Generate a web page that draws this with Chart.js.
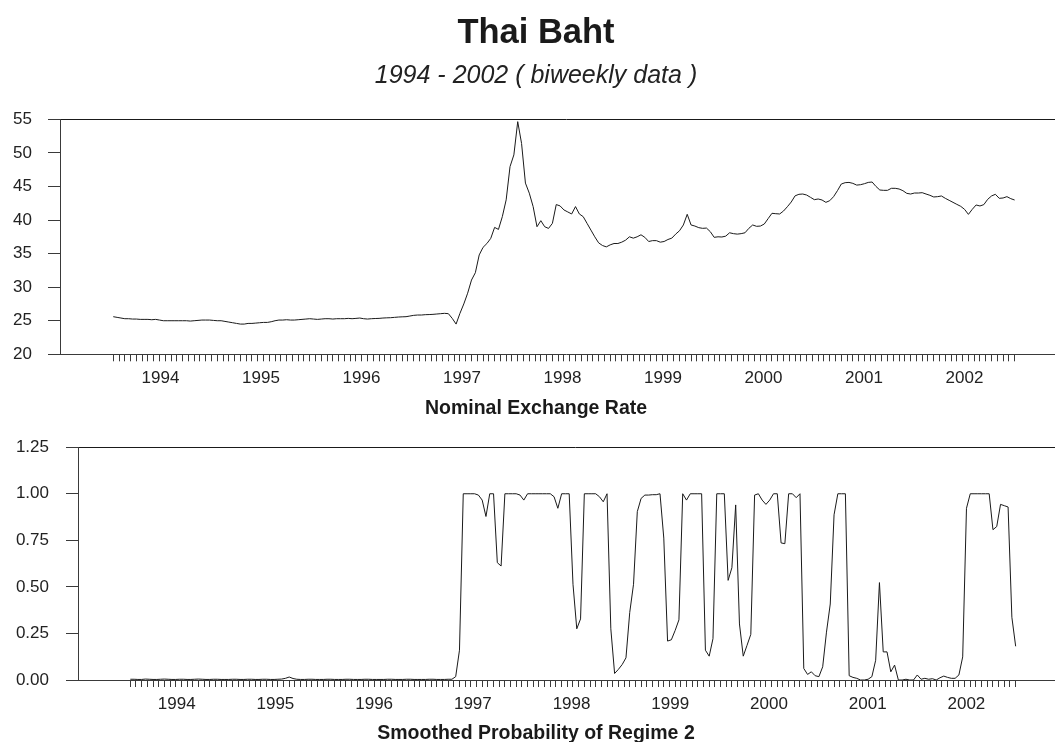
<!DOCTYPE html>
<html>
<head>
<meta charset="utf-8">
<title>Thai Baht</title>
<script src="https://cdn.jsdelivr.net/npm/chart.js@4.4.1/dist/chart.umd.min.js"></script>
<style>
  html, body { margin: 0; padding: 0; background: #fff; overflow: hidden; width: 1055px; height: 742px; }
  #wrap { position: relative; width: 1055px; height: 742px; overflow: hidden; }
  canvas { position: absolute; left: 0; }
  #rate { top: 0; }
  #prob { top: 420px; }
</style>
</head>
<body>
<div id="wrap">
  <canvas id="rate" width="1072" height="420"></canvas>
  <canvas id="prob" width="1072" height="322"></canvas>
</div>
<script>
// Sampling schedule of the series: one observation every two weeks from early January 1994
const firstObs = 1994.03;
const obsStepYears = 14 / 365.25;
// Minor tick marks along the time axis, every three weeks
const minorTickStepYears = 21 / 365.25;

const yearLabels = ['1994', '1995', '1996', '1997', '1998', '1999', '2000', '2001', '2002'];

const rateTicks = [20, 25, 30, 35, 40, 45, 50, 55];
const probTicks = [0, 0.25, 0.5, 0.75, 1, 1.25];
const probTickLabels = ['0.00', '0.25', '0.50', '0.75', '1.00', '1.25'];

// Baht per US dollar, biweekly
const rateValues = [
  25.6, 25.5, 25.4, 25.3, 25.3, 25.25, 25.25, 25.2, 25.2, 25.2,
  25.15, 25.2, 25.1, 25.0, 25.0, 25.0, 25.0, 25.0, 25.0, 25.0,
  24.95, 25.0, 25.05, 25.1, 25.1, 25.1, 25.05, 25.0, 25.0, 24.9,
  24.8, 24.7, 24.6, 24.5, 24.5, 24.6, 24.6, 24.65, 24.7, 24.75,
  24.75, 24.85, 25.0, 25.1, 25.1, 25.15, 25.1, 25.1, 25.15, 25.2,
  25.25, 25.3, 25.25, 25.2, 25.25, 25.3, 25.3, 25.25, 25.3, 25.3,
  25.3, 25.35, 25.3, 25.35, 25.4, 25.3, 25.25, 25.3, 25.33, 25.35,
  25.4, 25.43, 25.45, 25.5, 25.55, 25.58, 25.6, 25.7, 25.8, 25.85,
  25.85, 25.9, 25.92, 25.95, 26.0, 26.05, 26.1, 26.05, 25.35, 24.5,
  26.1, 27.5, 29.1, 31.06, 32.15, 34.8, 35.93, 36.5, 37.27, 38.9,
  38.6, 40.5, 43.0, 47.95, 49.7, 54.65, 51.4, 45.5, 44.0, 42.0,
  39.0, 39.9, 39.0, 38.75, 39.5, 42.3, 42.1, 41.5, 41.2, 40.9,
  42.0, 40.9, 40.5, 39.5, 38.5, 37.5, 36.6, 36.2, 36.0, 36.3,
  36.5, 36.5, 36.7, 37.0, 37.5, 37.3, 37.5, 37.8, 37.42, 36.8,
  36.93, 36.93, 36.7, 36.8, 37.1, 37.3, 37.9, 38.4, 39.26, 40.85,
  39.26, 39.1, 38.86, 38.76, 38.8, 38.26, 37.42, 37.5, 37.47, 37.6,
  38.1, 37.97, 37.9, 37.97, 38.1, 38.76, 39.26, 39.06, 39.1, 39.4,
  40.2, 41.0, 40.94, 40.9, 41.34, 41.98, 42.68, 43.6, 43.83, 43.87,
  43.72, 43.38, 43.03, 43.13, 42.98, 42.63, 42.88, 43.48, 44.37, 45.36,
  45.56, 45.6, 45.46, 45.2, 45.26, 45.41, 45.6, 45.66, 45.0, 44.47,
  44.42, 44.42, 44.72, 44.72, 44.62, 44.37, 43.97, 43.87, 44.02, 44.02,
  44.07, 43.87, 43.68, 43.43, 43.48, 43.58, 43.23, 42.93, 42.63, 42.33,
  42.04, 41.59, 40.84, 41.59, 42.24, 42.09, 42.29, 43.08, 43.58, 43.83,
  43.23, 43.28, 43.48, 43.18, 42.98
];

// Smoothed probability of regime 2, biweekly
const probValues = [
  0.004, 0.004, 0.003, 0.003, 0.005, 0.004, 0.003, 0.003, 0.004, 0.005,
  0.004, 0.003, 0.003, 0.004, 0.004, 0.003, 0.003, 0.004, 0.005, 0.004,
  0.003, 0.003, 0.004, 0.004, 0.003, 0.003, 0.003, 0.004, 0.004, 0.003,
  0.003, 0.004, 0.004, 0.003, 0.003, 0.004, 0.004, 0.003, 0.003, 0.004,
  0.005, 0.009, 0.016, 0.008, 0.004, 0.003, 0.003, 0.004, 0.004, 0.003,
  0.003, 0.003, 0.004, 0.004, 0.003, 0.003, 0.003, 0.004, 0.004, 0.003,
  0.003, 0.003, 0.004, 0.004, 0.003, 0.003, 0.003, 0.003, 0.004, 0.004,
  0.003, 0.003, 0.003, 0.004, 0.004, 0.003, 0.003, 0.003, 0.003, 0.004,
  0.004, 0.003, 0.003, 0.003, 0.004, 0.004, 0.018, 0.16, 1.0, 1.0,
  1.0, 1.0, 0.993, 0.966, 0.878, 1.0, 1.0, 0.63, 0.612, 1.0,
  1.0, 1.0, 1.0, 0.993, 0.966, 1.0, 1.0, 1.0, 1.0, 1.0,
  1.0, 1.0, 0.984, 0.922, 1.0, 1.0, 1.0, 0.514, 0.275, 0.328,
  1.0, 1.0, 1.0, 1.0, 0.984, 0.957, 1.0, 0.275, 0.035, 0.057,
  0.083, 0.119, 0.363, 0.514, 0.904, 0.975, 0.993, 0.993, 0.995, 0.995,
  1.0, 0.762, 0.209, 0.216, 0.266, 0.323, 1.0, 0.966, 1.0, 1.0,
  1.0, 1.0, 0.16, 0.128, 0.222, 1.0, 1.0, 1.0, 0.535, 0.603,
  0.94, 0.301, 0.128, 0.186, 0.245, 0.993, 1.0, 0.966, 0.943, 0.966,
  1.0, 1.0, 0.736, 0.732, 1.0, 1.0, 0.979, 1.0, 0.062, 0.03,
  0.044, 0.023, 0.018, 0.071, 0.257, 0.408, 0.887, 1.0, 1.0, 1.0,
  0.023, 0.014, 0.009, 0.0, 0.0, 0.004, 0.018, 0.106, 0.523, 0.151,
  0.151, 0.044, 0.08, 0.0, 0.0, 0.004, 0.0, 0.0, 0.027, 0.004,
  0.009, 0.004, 0.007, 0.0, 0.012, 0.021, 0.014, 0.009, 0.009, 0.027,
  0.124, 0.922, 1.0, 1.0, 1.0, 1.0, 1.0, 1.0, 0.807, 0.824,
  0.943, 0.936, 0.929, 0.337, 0.181
];

const FONT = "'Liberation Sans', Arial, Helvetica, sans-serif";
const INK = '#1a1a1a';
const AXIS = '#3a3a3a';

// Time axis shared by both panels: decimal years
const axisStart = 1993.5;
const axisEnd = 2003.57;

function obsTime(i) { return firstObs + i * obsStepYears; }
function toPoints(values) { return values.map((v, i) => ({ x: obsTime(i), y: v })); }

const lastObs = obsTime(Math.max(rateValues.length, probValues.length) - 1);
const yearTickPos = new Map(yearLabels.map(lab => [Number(lab) + 0.5, lab]));
const minorTicks = [];
for (let v = firstObs; v <= lastObs + 1e-9; v += minorTickStepYears) minorTicks.push(v);
const timeTicks = minorTicks.concat([...yearTickPos.keys()]).sort((a, b) => a - b);

function isYearTick(value) { return yearTickPos.has(value); }

function timeAxis() {
  return {
    type: 'linear',
    position: 'bottom',
    min: axisStart,
    max: axisEnd,
    afterBuildTicks(scale) { scale.ticks = timeTicks.map(v => ({ value: v })); },
    afterFit(scale) { scale.height = 40; },
    grid: {
      display: true,
      drawOnChartArea: false,
      drawTicks: true,
      tickLength: 7,
      tickWidth: 1,
      color: AXIS,
      tickColor: ctx => (ctx.tick && isYearTick(ctx.tick.value)) ? 'rgba(0,0,0,0)' : AXIS
    },
    border: { display: true, color: AXIS, width: 1 },
    ticks: {
      autoSkip: false,
      maxRotation: 0,
      minRotation: 0,
      padding: 7,
      color: '#222',
      font: { family: FONT, size: 17 },
      callback: v => yearTickPos.get(v) || ''
    }
  };
}

function valueAxis(tickValues, tickText, width, pad) {
  const top = tickValues[tickValues.length - 1];
  return {
    type: 'linear',
    position: 'left',
    min: tickValues[0],
    max: top,
    afterBuildTicks(scale) { scale.ticks = tickValues.map(v => ({ value: v })); },
    afterFit(scale) { scale.width = width; },
    grid: {
      display: true,
      drawOnChartArea: true,
      drawTicks: true,
      tickLength: 12,
      tickWidth: 1,
      lineWidth: 1,
      color: ctx => (ctx.tick && ctx.tick.value === top) ? INK : 'rgba(0,0,0,0)',
      tickColor: AXIS
    },
    border: { display: true, color: AXIS, width: 1 },
    ticks: {
      padding: pad,
      color: '#222',
      font: { family: FONT, size: 17 },
      callback: (v, i) => tickText[i]
    }
  };
}

// Bold caption centred under each panel
const axisCaption = {
  id: 'axisCaption',
  afterDraw(chart, args, opts) {
    const ctx = chart.ctx;
    ctx.save();
    ctx.font = 'bold ' + opts.size + 'px ' + FONT;
    ctx.fillStyle = INK;
    ctx.textAlign = 'center';
    ctx.textBaseline = 'alphabetic';
    ctx.fillText(opts.text, opts.x, opts.y);
    ctx.restore();
  }
};

function lineSet(values) {
  return {
    data: toPoints(values),
    borderColor: INK,
    borderWidth: 1,
    pointRadius: 0,
    tension: 0,
    fill: false
  };
}

Chart.defaults.font.family = FONT;

new Chart(document.getElementById('rate'), {
  type: 'line',
  data: { datasets: [lineSet(rateValues)] },
  options: {
    responsive: false,
    animation: false,
    devicePixelRatio: 1,
    parsing: false,
    layout: { padding: { top: 0, left: 0, right: 0, bottom: 25.7 } },
    scales: {
      x: timeAxis(),
      y: valueAxis(rateTicks, rateTicks.map(String), 60, 16)
    },
    plugins: {
      legend: { display: false },
      tooltip: { enabled: false },
      title: {
        display: true,
        text: 'Thai Baht',
        color: INK,
        font: { family: FONT, size: 34.5, weight: 'bold' },
        padding: { top: 12.3, bottom: 0 }
      },
      subtitle: {
        display: true,
        text: '1994 - 2002 ( biweekly data )',
        color: '#222',
        font: { family: FONT, size: 25, style: 'italic' },
        padding: { top: 7.5, bottom: 28.1 }
      },
      axisCaption: { text: 'Nominal Exchange Rate', x: 536, y: 414, size: 19.5 }
    }
  },
  plugins: [axisCaption]
});

new Chart(document.getElementById('prob'), {
  type: 'line',
  data: { datasets: [lineSet(probValues)] },
  options: {
    responsive: false,
    animation: false,
    devicePixelRatio: 1,
    parsing: false,
    layout: { padding: { top: 25, left: 0, right: 0, bottom: 22 } },
    scales: {
      x: timeAxis(),
      y: valueAxis(probTicks, probTickLabels, 78, 17)
    },
    plugins: {
      legend: { display: false },
      tooltip: { enabled: false },
      axisCaption: { text: 'Smoothed Probability of Regime 2', x: 536, y: 319, size: 19.5 }
    }
  },
  plugins: [axisCaption]
});
</script>
</body>
</html>
